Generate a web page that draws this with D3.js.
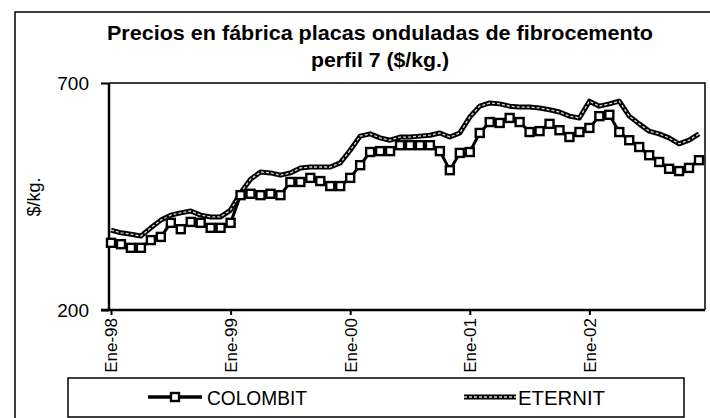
<!DOCTYPE html>
<html>
<head>
<meta charset="utf-8">
<script src="https://cdn.jsdelivr.net/npm/d3@7"></script>
<style>
  body { margin: 0; background: #fff; }
  text { font-family: "Liberation Sans", Arial, sans-serif; fill: #000; }
</style>
</head>
<body>
<svg id="chart"></svg>
<script>
var width = 710;
var height = 418;

// categorias: meses de Ene-98 a Dic-02
var meses = ["Ene", "Feb", "Mar", "Abr", "May", "Jun", "Jul", "Ago", "Sep", "Oct", "Nov", "Dic"];
var anios = ["98", "99", "00", "01", "02"];
var tickMeses = [0, 12, 24, 36, 48];

// $/kg.
var colombit = [348, 345, 337, 337, 354, 361, 392, 378, 394, 392, 381, 381,
                392, 453, 456, 453, 456, 453, 482, 482, 491, 484, 473, 473,
                491, 519, 548, 550, 550, 563, 563, 563, 563, 550, 508, 546,
                548, 590, 614, 612, 623, 614, 592, 594, 610, 596, 581, 592,
                601, 627, 630, 592, 574, 559, 541, 526, 511, 506, 513, 530];
var eternit = [376, 370, 367, 363, 381, 398, 409, 414, 418, 409, 405, 405,
               420, 458, 488, 504, 502, 497, 502, 513, 515, 515, 515, 524,
               552, 583, 588, 579, 574, 581, 581, 583, 585, 590, 581, 590,
               625, 649, 656, 654, 649, 647, 647, 645, 641, 636, 627, 623,
               660, 649, 654, 660, 627, 610, 594, 588, 579, 566, 574, 588];

var yTicks = [200, 700];

var categorias = [];
anios.forEach(function(a) {
    meses.forEach(function(m) { categorias.push(m + "-" + a); });
});

var pLeft = 109, pRight = 705, pTop = 83, pBottom = 310;

var x = d3.scaleLinear()
    .domain([0, categorias.length - 1])
    .range([111, 699]);

var y = d3.scaleLinear()
    .domain([200, 700])
    .range([pBottom, pTop]);

var chart = d3.select("#chart")
    .attr("width", width)
    .attr("height", height);

chart.append("rect")
    .attr("width", width).attr("height", height)
    .attr("fill", "#fff");

// marco exterior
chart.append("rect")
    .attr("x", 15).attr("y", 12)
    .attr("width", 720).attr("height", 440)
    .attr("fill", "none")
    .attr("stroke", "#000")
    .attr("stroke-width", 1.5);

// titulo
chart.append("text")
    .attr("x", 380).attr("y", 40)
    .attr("text-anchor", "middle")
    .attr("font-size", 20).attr("font-weight", "bold")
    .attr("textLength", 546).attr("lengthAdjust", "spacingAndGlyphs")
    .text("Precios en fábrica placas onduladas de fibrocemento");

chart.append("text")
    .attr("x", 380).attr("y", 67)
    .attr("text-anchor", "middle")
    .attr("font-size", 20).attr("font-weight", "bold")
    .attr("textLength", 138).attr("lengthAdjust", "spacingAndGlyphs")
    .text("perfil 7 ($/kg.)");

// borde del area de trazado
chart.append("path")
    .attr("d", "M" + pLeft + "," + pTop + "H" + pRight + "V" + pBottom)
    .attr("fill", "none")
    .attr("stroke", "#000")
    .attr("stroke-width", 1.5);

var yAxis = chart.append("g")
    .attr("transform", "translate(" + pLeft + ",0)")
    .call(d3.axisLeft(y).tickValues(yTicks).tickSize(8).tickPadding(12));

var xAxis = chart.append("g")
    .attr("transform", "translate(0," + pBottom + ")")
    .call(d3.axisBottom(x).tickValues(tickMeses).tickSize(5)
        .tickFormat(function(i) { return categorias[i]; }));

[yAxis, xAxis].forEach(function(g) {
    g.select(".domain").remove();
    g.selectAll("line").attr("stroke", "#000").attr("stroke-width", 2);
});

chart.append("line")
    .attr("x1", pLeft).attr("x2", pLeft).attr("y1", pTop).attr("y2", pBottom)
    .attr("stroke", "#000").attr("stroke-width", 2.5);
chart.append("line")
    .attr("x1", pLeft - 8).attr("x2", pRight).attr("y1", pBottom).attr("y2", pBottom)
    .attr("stroke", "#000").attr("stroke-width", 2.5);

yAxis.selectAll("text")
    .attr("font-size", 19)
    .attr("font-family", "Liberation Sans, Arial, sans-serif");

xAxis.selectAll("text")
    .attr("font-size", 17)
    .attr("font-family", "Liberation Sans, Arial, sans-serif")
    .attr("text-anchor", "end")
    .attr("transform", "rotate(-90)")
    .attr("x", -8)
    .attr("y", 0)
    .attr("dx", 0)
    .attr("dy", "0.35em");

chart.append("text")
    .attr("transform", "translate(40,197) rotate(-90)")
    .attr("text-anchor", "middle")
    .attr("font-size", 18)
    .text("$/kg.");

var line = d3.line()
    .x(function(d, i) { return x(i); })
    .y(function(d) { return y(d); });

// ETERNIT: linea doble
chart.append("path")
    .datum(eternit)
    .attr("d", line)
    .attr("fill", "none")
    .attr("stroke", "#000")
    .attr("stroke-width", 5)
    .attr("stroke-linejoin", "round");
chart.append("path")
    .datum(eternit)
    .attr("d", line)
    .attr("fill", "none")
    .attr("stroke", "#d8d8d8")
    .attr("stroke-width", 1.3)
    .attr("stroke-dasharray", "3,2");

// COLOMBIT
chart.append("path")
    .datum(colombit)
    .attr("d", line)
    .attr("fill", "none")
    .attr("stroke", "#000")
    .attr("stroke-width", 3);

chart.selectAll(".marca")
    .data(colombit)
  .enter().append("rect")
    .attr("class", "marca")
    .attr("x", function(d, i) { return x(i) - 4; })
    .attr("y", function(d) { return y(d) - 4; })
    .attr("width", 8).attr("height", 8)
    .attr("fill", "#fff")
    .attr("stroke", "#000")
    .attr("stroke-width", 2.4);

// leyenda
var legend = chart.append("g");

legend.append("rect")
    .attr("x", 68).attr("y", 378)
    .attr("width", 616).attr("height", 39)
    .attr("fill", "#fff")
    .attr("stroke", "#000")
    .attr("stroke-width", 1.5);

legend.append("line")
    .attr("x1", 148).attr("x2", 202).attr("y1", 397).attr("y2", 397)
    .attr("stroke", "#000").attr("stroke-width", 3.5);
legend.append("rect")
    .attr("x", 171).attr("y", 393)
    .attr("width", 8).attr("height", 8)
    .attr("fill", "#fff").attr("stroke", "#000").attr("stroke-width", 2.4);
legend.append("text")
    .attr("x", 207).attr("y", 405)
    .attr("font-size", 20)
    .attr("textLength", 100).attr("lengthAdjust", "spacingAndGlyphs")
    .text("COLOMBIT");

legend.append("line")
    .attr("x1", 464).attr("x2", 516).attr("y1", 397).attr("y2", 397)
    .attr("stroke", "#000").attr("stroke-width", 5);
legend.append("line")
    .attr("x1", 464).attr("x2", 516).attr("y1", 397).attr("y2", 397)
    .attr("stroke", "#d8d8d8").attr("stroke-width", 1.3)
    .attr("stroke-dasharray", "3,2");
legend.append("text")
    .attr("x", 518).attr("y", 405)
    .attr("font-size", 20)
    .attr("textLength", 87).attr("lengthAdjust", "spacingAndGlyphs")
    .text("ETERNIT");
</script>
</body>
</html>
